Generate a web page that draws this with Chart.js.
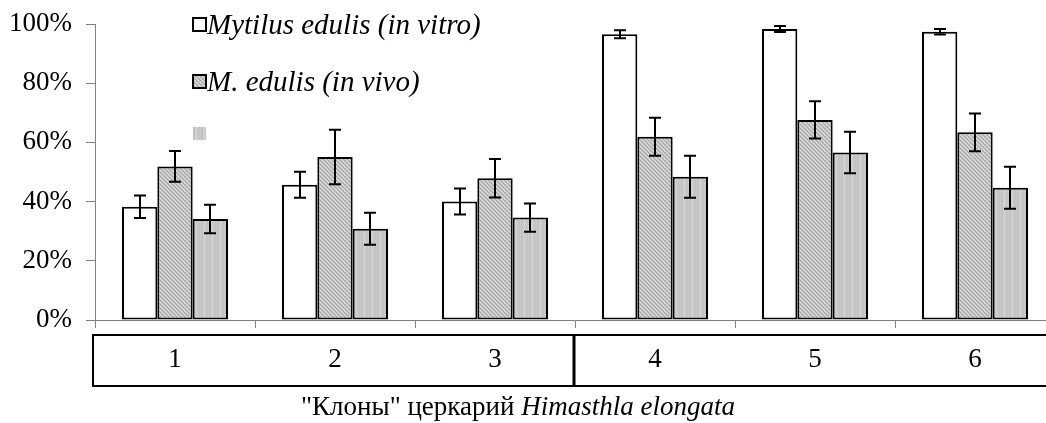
<!DOCTYPE html>
<html>
<head>
<meta charset="utf-8">
<script src="https://cdn.jsdelivr.net/npm/chart.js@4.4.1/dist/chart.umd.min.js"></script>
<style>
html,body{margin:0;padding:0;background:#fff;overflow:hidden;width:1046px;height:423px;}
#wrap{position:absolute;left:0;top:0;width:1056px;height:423px;}
</style>
</head>
<body>
<div id="wrap"><canvas id="c" width="1056" height="423"></canvas></div>
<script>
const categories = ["1", "2", "3", "4", "5", "6"];
const seriesLabels = ["Mytilus edulis (in vitro)", "M. edulis (in vivo)", ""];
const inVitro = [38.3, 45.7, 40.0, 96.5, 98.3, 97.4];
const inVitroErr = [3.8, 4.4, 4.4, 1.35, 1.0, 0.95];
const inVivo = [51.9, 55.1, 47.9, 61.9, 67.6, 63.4];
const inVivoErr = [5.2, 9.2, 6.5, 6.4, 6.3, 6.4];
const third = [34.1, 30.8, 34.6, 48.4, 56.6, 44.7];
const thirdErr = [4.8, 5.4, 4.8, 7.1, 7.0, 7.1];
const yTicks = [0, 20, 40, 60, 80, 100];
const xTitlePlain = "\"Клоны\" церкарий ";
const xTitleItalic = "Himasthla elongata";

const SERIF = "'Liberation Serif','Times New Roman',serif";

function makeHatch() {
  const c = document.createElement('canvas'); c.width = 4; c.height = 4;
  const g = c.getContext('2d');
  g.fillStyle = '#c6c6c6'; g.fillRect(0,0,4,4);
  for (let i = 0; i < 4; i++) {
    g.fillStyle = '#a4a4a4'; g.fillRect(i, i, 1, 1);
    g.fillStyle = '#dadada'; g.fillRect((i+2)%4, i, 1, 1);
  }
  return g.createPattern(c, 'repeat');
}
function makeWave() {
  const c = document.createElement('canvas'); c.width = 8; c.height = 8;
  const g = c.getContext('2d');
  g.fillStyle = '#cacaca'; g.fillRect(0,0,8,8);
  for (let y = 0; y < 8; y++) {
    const off = (y % 4 < 2) ? 0 : 1;
    g.fillStyle = '#b8b8b8'; g.fillRect(1+off, y, 1, 1);
    g.fillStyle = '#d8d8d8'; g.fillRect(4-off, y, 1, 1);
    g.fillStyle = '#c0c0c0'; g.fillRect(6+off, y, 1, 1);
  }
  return g.createPattern(c, 'repeat');
}

const fills = ['#ffffff', makeHatch(), makeWave()];
const errs = [inVitroErr, inVivoErr, thirdErr];

const errorBars = {
  id: 'errorBars',
  afterDatasetsDraw(chart) {
    const ctx = chart.ctx; const y = chart.scales.y;
    ctx.save(); ctx.strokeStyle = '#000'; ctx.lineWidth = 2;
    chart.data.datasets.forEach((ds, di) => {
      const meta = chart.getDatasetMeta(di);
      meta.data.forEach((bar, i) => {
        const v = ds.data[i], e = errs[di][i];
        const x = Math.round(bar.x);
        const y1 = y.getPixelForValue(v + e), y2 = y.getPixelForValue(v - e);
        ctx.beginPath();
        ctx.moveTo(x, y1); ctx.lineTo(x, y2);
        ctx.moveTo(x - 6, y1); ctx.lineTo(x + 6, y1);
        ctx.moveTo(x - 6, y2); ctx.lineTo(x + 6, y2);
        ctx.stroke();
      });
    });
    ctx.restore();
  }
};

const extras = {
  id: 'extras',
  afterDraw(chart) {
    const ctx = chart.ctx; const xs = chart.scales.x;
    ctx.save();
    const top = 335, bot = 386;
    const left = xs.left - 2, right = xs.right;
    ctx.strokeStyle = '#000'; ctx.lineWidth = 2;
    ctx.strokeRect(left, top, right - left, bot - top);
    const mid = (xs.getPixelForValue(2) + xs.getPixelForValue(3)) / 2 - 1;
    ctx.lineWidth = 3;
    ctx.beginPath(); ctx.moveTo(mid, top); ctx.lineTo(mid, bot); ctx.stroke();
    ctx.fillStyle = '#000'; ctx.textBaseline = 'middle';
    const fN = "27px " + SERIF, fI = "italic 27px " + SERIF;
    ctx.font = fN; const w1 = ctx.measureText(xTitlePlain).width;
    ctx.font = fI; const w2 = ctx.measureText(xTitleItalic).width;
    let x0 = 518 - (w1 + w2) / 2;
    ctx.textAlign = 'left';
    ctx.font = fN; ctx.fillText(xTitlePlain, x0, 408);
    ctx.font = fI; ctx.fillText(xTitleItalic, x0 + w1, 408);
    const ly = [25, 82, 134];
    chart.data.datasets.forEach((ds, di) => {
      const bx = 193, by = ly[di] - 7, s = 13;
      ctx.fillStyle = ds.backgroundColor; ctx.fillRect(bx, by, s, s);
      if (ds.label) {
        ctx.strokeStyle = '#000'; ctx.lineWidth = 2; ctx.strokeRect(bx, by, s, s);
        ctx.fillStyle = '#000'; ctx.font = "italic 29px " + SERIF;
        ctx.textAlign = 'left'; ctx.textBaseline = 'middle';
        ctx.fillText(ds.label, bx + s + 1, ly[di] + 1);
      }
    });
    ctx.restore();
  }
};

new Chart(document.getElementById('c'), {
  type: 'bar',
  data: {
    labels: categories,
    datasets: [inVitro, inVivo, third].map((d, i) => ({
      label: seriesLabels[i], data: d, backgroundColor: fills[i],
      borderColor: '#000', borderWidth: 2, borderSkipped: false,
      categoryPercentage: 0.6625, barPercentage: 1.0
    }))
  },
  plugins: [errorBars, extras],
  options: {
    responsive: false, animation: false, devicePixelRatio: 1,
    layout: { padding: { top: 24, left: 0, right: 1, bottom: 0 } },
    plugins: { legend: { display: false }, tooltip: { enabled: false } },
    scales: {
      x: {
        grid: { offset: true, drawOnChartArea: false, drawTicks: true, tickLength: 8, color: '#808080', lineWidth: 1 },
        border: { color: '#808080', width: 1 },
        ticks: { color: '#000', font: { family: SERIF, size: 27 }, padding: 16, maxRotation: 0 },
        afterFit(s) { s.height = 103; s.paddingLeft = 0; s.paddingRight = 0; }
      },
      y: {
        min: 0, max: 100,
        afterBuildTicks(s) { s.ticks = yTicks.map(v => ({ value: v })); },
        grid: { drawOnChartArea: false, drawTicks: true, tickLength: 9, color: '#808080', lineWidth: 1 },
        border: { color: '#808080', width: 1 },
        ticks: { color: '#000', font: { family: SERIF, size: 27 }, padding: 14, callback: v => v + '%' },
        afterFit(s) { s.width = 95; s.paddingTop = 0; s.paddingBottom = 0; }
      }
    }
  }
});
</script>
</body>
</html>
